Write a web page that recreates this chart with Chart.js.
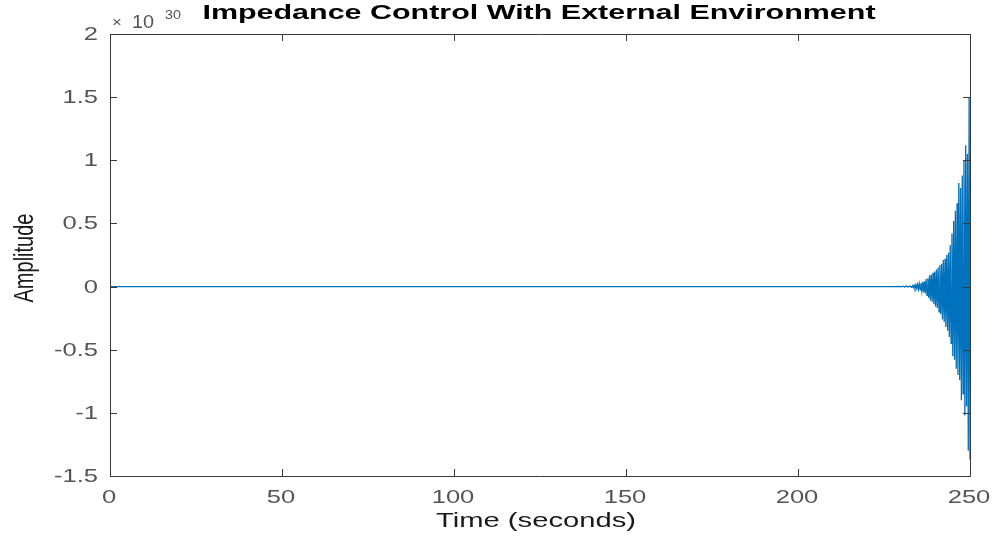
<!DOCTYPE html>
<html><head><meta charset="utf-8">
<script src="https://cdn.jsdelivr.net/npm/chart.js@4"></script>
<style>html,body{margin:0;padding:0;background:#fff;overflow:hidden;}#wrap{width:999px;height:537px;}</style>
</head><body><div id="wrap"><canvas id="c" width="999" height="537"></canvas></div>
<script>
const timeSec = [0, 228, 228.5, 229, 229.5, 230, 230.5, 231, 231.5, 232, 232.5,
  233, 233.25, 233.5, 233.75, 234, 234.25, 234.5, 234.75, 235, 235.25, 235.5, 235.75, 236,
  236.25, 236.5, 236.75, 237, 237.25, 237.5, 237.75, 238, 238.25, 238.5, 238.75, 239,
  239.25, 239.5, 239.75, 240, 240.25, 240.5, 240.75, 241, 241.25, 241.5, 241.75, 242,
  242.25, 242.5, 242.75, 243, 243.25, 243.5, 243.75, 244, 244.25, 244.5, 244.75, 245,
  245.25, 245.5, 245.75, 246, 246.25, 246.5, 246.75, 247, 247.25, 247.5, 247.75, 248,
  248.25, 248.5, 248.75, 249, 249.25, 249.5, 249.75, 250];
const amplitudeE30 = [0, 0, 0.001, -0.001, 0.002, -0.002, 0.003, -0.003, 0.004, -0.004, 0.005,
  -0.006, 0.007, -0.008, 0.010, -0.012, 0.013, -0.015, 0.017, -0.020, 0.022, -0.025, 0.028, -0.035,
  0.038, -0.045, 0.042, -0.055, 0.060, -0.070, 0.065, -0.090, 0.090, -0.110, 0.095, -0.120,
  0.110, -0.140, 0.120, -0.160, 0.135, -0.170, 0.150, -0.200, 0.170, -0.220, 0.180, -0.260,
  0.210, -0.280, 0.220, -0.320, 0.250, -0.350, 0.270, -0.400, 0.330, -0.450, 0.420, -0.550,
  0.520, -0.580, 0.600, -0.650, 0.660, -0.700, 0.820, -0.740, 0.780, -0.900, 0.880, -0.850,
  1.000, -1.020, 1.120, -0.950, 1.050, -1.300, 1.500, -1.370];
const xTicks = [0, 50, 100, 150, 200, 250];
const xTickLabels = ['0', '50', '100', '150', '200', '250'];
const yTicks = [2, 1.5, 1, 0.5, 0, -0.5, -1, -1.5];
const yTickLabels = ['2', '1.5', '1', '0.5', '0', '-0.5', '-1', '-1.5'];
const chartTitle = 'Impedance Control With External Environment';
const xTitle = 'Time (seconds)';
const yTitle = 'Amplitude';
const exponentTimes = '\u00d7';
const exponentBase = '10';
const exponentPower = '30';

const SX = 1.42; // horizontal stretch of the reference text
function sText(ctx, text, x, y, align, baseline, sx) {
  ctx.save();
  ctx.translate(x, y);
  ctx.scale(sx, 1);
  ctx.textAlign = align;
  ctx.textBaseline = baseline;
  ctx.fillText(text, 0, 0);
  ctx.restore();
}

const decor = {
  id: 'decor',
  afterDraw(chart) {
    const ctx = chart.ctx;
    const xs = chart.scales.x, ys = chart.scales.y;
    const L = xs.getPixelForValue(0), R = xs.getPixelForValue(250);
    const T = ys.getPixelForValue(2), B = ys.getPixelForValue(-1.5);
    ctx.save();
    ctx.strokeStyle = '#3a3a3a';
    ctx.lineWidth = 1;
    ctx.beginPath();
    ctx.rect(Math.round(L) + 0.5, Math.round(T) + 0.5, Math.round(R - L), Math.round(B - T));
    ctx.stroke();
    const tl = 7;
    ctx.beginPath();
    xTicks.forEach(v => {
      const p = Math.round(xs.getPixelForValue(v)) + 0.5;
      ctx.moveTo(p, B); ctx.lineTo(p, B - tl);
      ctx.moveTo(p, T); ctx.lineTo(p, T + tl);
    });
    yTicks.forEach(v => {
      const p = Math.round(ys.getPixelForValue(v)) + 0.5;
      ctx.moveTo(L, p); ctx.lineTo(L + tl, p);
      ctx.moveTo(R, p); ctx.lineTo(R - tl, p);
    });
    ctx.stroke();

    ctx.fillStyle = '#555';
    ctx.font = '18px "Liberation Sans", Arial, sans-serif';
    yTicks.forEach((v, i) => {
      sText(ctx, yTickLabels[i], 98, ys.getPixelForValue(v) + 1, 'right', 'middle', SX);
    });
    xTicks.forEach((v, i) => {
      sText(ctx, xTickLabels[i], xs.getPixelForValue(v) - 1, 503, 'center', 'alphabetic', SX);
    });
    // exponent
    ctx.font = '14px "Liberation Sans", Arial, sans-serif';
    sText(ctx, exponentTimes, 112, 27, 'left', 'alphabetic', 1.2);
    ctx.font = '18px "Liberation Sans", Arial, sans-serif';
    sText(ctx, exponentBase, 132, 28, 'left', 'alphabetic', 1.1);
    ctx.font = '12px "Liberation Sans", Arial, sans-serif';
    sText(ctx, exponentPower, 165, 19, 'left', 'alphabetic', 1.2);

    // title
    ctx.fillStyle = '#000';
    ctx.font = 'bold 21px "Liberation Sans", Arial, sans-serif';
    sText(ctx, chartTitle, 539, 19, 'center', 'alphabetic', 1.45);
    // x label
    ctx.fillStyle = '#1a1a1a';
    ctx.font = '20px "Liberation Sans", Arial, sans-serif';
    sText(ctx, xTitle, 536, 527, 'center', 'alphabetic', 1.46);
    // y label
    ctx.save();
    ctx.translate(25, 258);
    ctx.scale(1.4, 1);
    ctx.rotate(-Math.PI / 2);
    ctx.textAlign = 'center';
    ctx.textBaseline = 'middle';
    ctx.fillText(yTitle, 0, 0);
    ctx.restore();
    ctx.restore();
  }
};

new Chart(document.getElementById('c'), {
  type: 'line',
  data: {
    datasets: [{
      data: timeSec.map((t, i) => ({ x: t, y: amplitudeE30[i] })),
      borderColor: '#0072BD',
      borderWidth: 1.3,
      pointRadius: 0,
      tension: 0,
      fill: false
    }]
  },
  options: {
    responsive: false,
    animation: false,
    devicePixelRatio: 1,
    layout: { padding: { left: 110, right: 29, top: 34, bottom: 61 } },
    plugins: { legend: { display: false }, tooltip: { enabled: false }, title: { display: false } },
    scales: {
      x: { type: 'linear', min: 0, max: 250, display: false },
      y: { type: 'linear', min: -1.5, max: 2, display: false }
    }
  },
  plugins: [decor]
});
</script>
</body></html>
